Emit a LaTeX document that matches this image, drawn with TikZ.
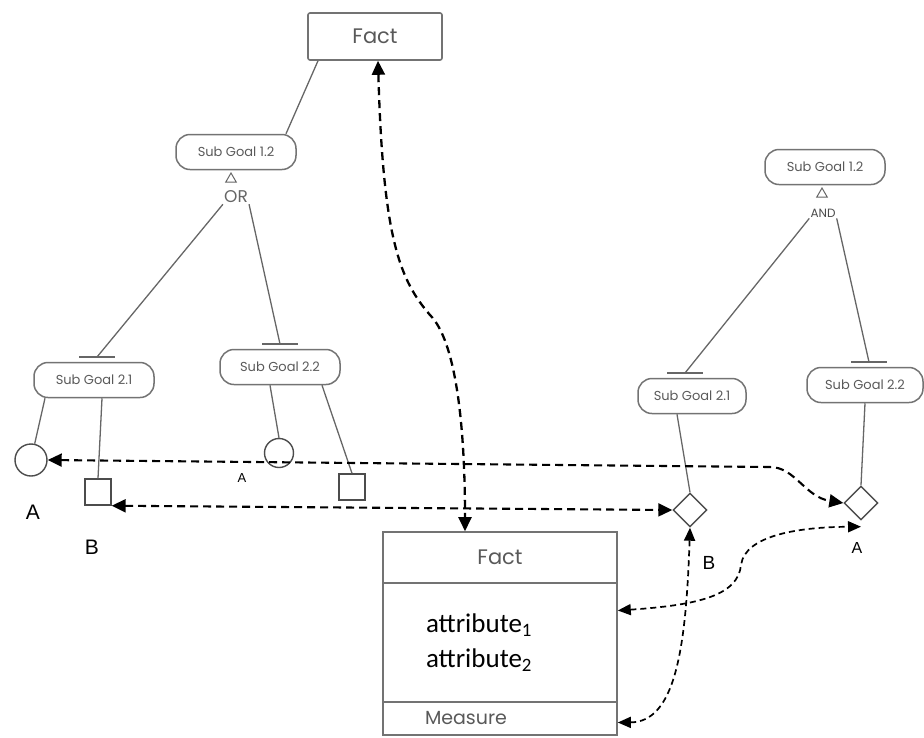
\documentclass[tikz,border=0pt]{standalone}
\usepackage{fontspec}
\setmainfont{Poppins}
\newfontfamily\attrfont{Carlito}
\newfontfamily\letterfont{Liberation Sans}
\usetikzlibrary{arrows.meta,shapes.geometric}

\begin{document}
\begin{tikzpicture}[
  x=1pt, y=-1pt,
  goal/.style={draw=black!55, line width=1.5pt, rounded corners=14pt,
    minimum width=120pt, minimum height=35pt, inner sep=2pt,
    text=black!65, font=\fontsize{13}{15}\selectfont},
  factbox/.style={draw=black!55, line width=1.6pt, minimum width=234pt,
    inner ysep=0pt, text=black!65},
  link/.style={draw=black!60, line width=1.3pt},
  marker/.style={draw=black!70, line width=1.4pt, inner sep=0pt},
  tri/.style={regular polygon, regular polygon sides=3, draw=black!60,
    line width=1pt, minimum size=12pt, inner sep=0pt},
  letter/.style={font=\letterfont\fontsize{21}{21}\selectfont, inner sep=0pt},
  trace/.style={line width=2.1pt, dash pattern=on 8pt off 5pt,
    {Triangle[length=14pt,width=13pt]}-{Triangle[length=14pt,width=13pt]}},
  thintrace/.style={line width=1.7pt, dash pattern=on 6pt off 4pt,
    {Triangle[length=13pt,width=11pt]}-{Triangle[length=13pt,width=11pt]}}
]
\path[use as bounding box] (0,0) rectangle (924,737);

% Goal model on the left (OR decomposition)
\node[draw=black!55, line width=1.6pt, rounded corners=2pt, minimum width=134pt,
  minimum height=47pt, text=black!65, font=\fontsize{21}{21}\selectfont]
  (factTop) at (375,36.5) {Fact};
\node[goal] (sgL12) at (236,152) {Sub Goal 1.2};
\node[tri] (orTri) at (231,179) {};
\node[font=\fontsize{17}{17}\selectfont, text=black!60, inner sep=1pt]
  (orLbl) at (236,197) {OR};
\node[goal] (sgL21) at (94,380) {Sub Goal 2.1};
\node[goal] (sgL22) at (280,367) {Sub Goal 2.2};
\coordinate (barL21) at (97,357);
\coordinate (barL22) at (280,344);

\draw[link] ([xshift=-57pt]factTop.south) -- ([xshift=50pt]sgL12.north);
\draw[link] (orLbl.south west) -- (barL21);
\draw[link] (orLbl.south east) -- (barL22);
\draw[link] ([xshift=-18pt]barL21) -- ([xshift=18pt]barL21);
\draw[link] ([xshift=-18pt]barL22) -- ([xshift=18pt]barL22);

\node[marker, circle, minimum size=32pt] (circA) at (31,460) {};
\node[marker, rectangle, minimum size=26pt] (sqB) at (98,492) {};
\node[marker, circle, minimum size=29pt] (circA2) at (279,453) {};
\node[marker, rectangle, minimum size=26pt] (sqB2) at (352,487) {};
\draw[link] ([xshift=-49pt]sgL21.south) -- (circA);
\draw[link] ([xshift=8pt]sgL21.south) -- (sqB.north);
\draw[link] ([xshift=-10pt]sgL22.south) -- (circA2.north);
\draw[link] ([xshift=42pt]sgL22.south) -- (sqB2.north);

\node[letter] (lblA1) at (33,512) {A};
\node[letter] (lblB1) at (92,547) {B};
\node[letter, font=\letterfont\fontsize{13}{13}\selectfont] (lblA2) at (242,478) {A};

% Goal model on the right (AND decomposition)
\node[goal] (sgR12) at (825,167) {Sub Goal 1.2};
\node[tri] (andTri) at (822,194) {};
\node[font=\fontsize{12}{12}\selectfont, text=black!70, inner sep=1pt]
  (andLbl) at (823,213) {AND};
\node[goal, minimum width=108pt] (sgR21) at (692,396) {Sub Goal 2.1};
\node[goal, minimum width=116pt] (sgR22) at (865,385) {Sub Goal 2.2};
\coordinate (barR21) at (685,373);
\coordinate (barR22) at (869,362);

\draw[link] (andLbl.south west) -- (barR21);
\draw[link] (andLbl.south east) -- (barR22);
\draw[link] ([xshift=-18pt]barR21) -- ([xshift=18pt]barR21);
\draw[link] ([xshift=-18pt]barR22) -- ([xshift=18pt]barR22);

\node[marker, diamond, minimum size=34pt] (dmB) at (690,510) {};
\node[marker, diamond, minimum size=34pt] (dmA) at (861,503) {};
\draw[link] ([xshift=-15pt]sgR21.south) -- (dmB.north);
\draw[link] (sgR22.south) -- (dmA.north);

\node[letter, font=\letterfont\fontsize{19}{19}\selectfont] (lblB2) at (709,563) {B};
\node[letter, font=\letterfont\fontsize{16}{16}\selectfont] (lblA3) at (857,548) {A};

% Fact table
\node[factbox, minimum height=51pt, font=\fontsize{21}{21}\selectfont]
  (factHead) at (500,557.5) {Fact};
\node[factbox, minimum height=119pt, text width=148pt, inner xsep=43pt,
  align=left, text=black, font=\attrfont\fontsize{27}{35}\selectfont]
  (factAttr) at (500,642.5) {attribute\textsubscript{1}\\attribute\textsubscript{2}};
\node[factbox, minimum height=33pt, text width=150pt, inner xsep=42pt,
  align=left, font=\fontsize{19}{19}\selectfont]
  (factMeas) at (500,718.5) {Measure};

% Traceability links
\draw[trace, line width=2.3pt] ([xshift=3pt]factTop.south)
  .. controls (383,240) and (400,280) .. (430,315)
  .. controls (455,340) and (465,420) .. ([xshift=-35pt]factHead.north);
\draw[trace] (circA.east) -- (770,467)
  .. controls (795,467) and (805,497) .. (dmA.west);
\draw[trace] (sqB.south east) -- (dmB.west);
\draw[thintrace] ([yshift=32pt]factAttr.east)
  .. controls (700,605) and (738,595) .. (741,565)
  .. controls (745,535) and (800,527) .. ([yshift=-6pt]dmA.south);
\draw[thintrace] (dmB.south)
  .. controls (686,650) and (675,722) .. ([yshift=-4pt]factMeas.east);
\end{tikzpicture}
\end{document}
